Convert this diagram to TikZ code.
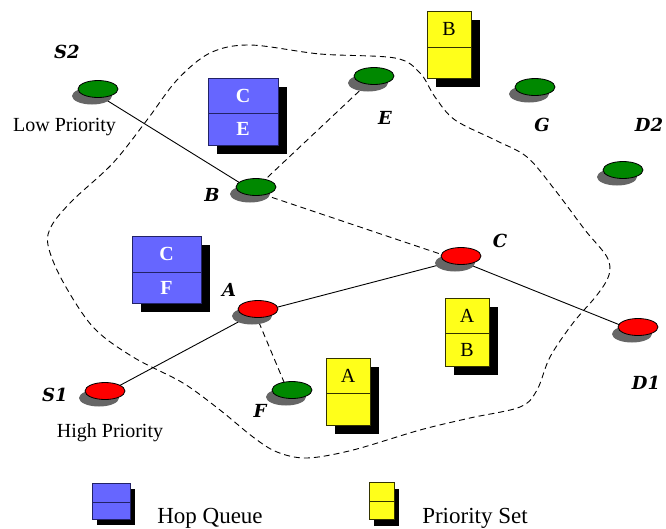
\documentclass[tikz,border=0pt]{standalone}
\usepackage{fontspec}
\setmainfont{Liberation Serif}
\newfontfamily\labelfont{DejaVu Serif}
\usetikzlibrary{shapes.geometric,shadows,backgrounds}
\definecolor{qblue}{HTML}{6666FF}
\definecolor{qblueline}{HTML}{222266}
\definecolor{pyellow}{HTML}{FFFF1A}
\definecolor{pyline}{HTML}{333300}
\definecolor{ngreen}{HTML}{008800}
\definecolor{nred}{HTML}{FF0000}
\definecolor{sgray}{HTML}{666666}
\newcommand\qstack[9]{%
  \fill[black] (#3+9,#4+9) rectangle ++(#5,#6+#7);
  \node[#2, minimum width=#5pt, minimum height=#6pt] (#1t) at (#3,#4) {#8};
  \node[#2, minimum width=#5pt, minimum height=#7pt] (#1b) at (#1t.south west) {#9};
}
\begin{document}
\begin{tikzpicture}[x=1pt,y=-1pt,
  netnode/.style={ellipse, draw=black, line width=0.8pt, minimum width=40pt, minimum height=17pt, inner sep=0pt,
    drop shadow={shadow xshift=-6pt, shadow yshift=-7pt, fill=sgray, opacity=1, draw=none}},
  gnode/.style={netnode, fill=ngreen},
  rnode/.style={netnode, fill=nred},
  lbl/.style={font=\labelfont\fontsize{18}{20}\selectfont\bfseries\itshape, inner sep=0pt},
  txt/.style={font=\fontsize{20}{22}\selectfont, inner sep=0pt},
  legtxt/.style={font=\fontsize{23}{25}\selectfont, inner sep=0pt},
  link/.style={line width=0.9pt},
  dlink/.style={line width=0.9pt, dash pattern=on 6pt off 4pt},
  hopcell/.style={draw=qblueline, fill=qblue, line width=1pt, text=white, font=\fontsize{20}{22}\selectfont\bfseries, inner sep=0pt, outer sep=0pt, anchor=north west},
  setcell/.style={draw=pyline, fill=pyellow, line width=0.8pt, text=black, font=\fontsize{20}{22}\selectfont, inner sep=0pt, outer sep=0pt, anchor=north west},
]
\useasboundingbox (0,0) rectangle (666,528);

% network nodes
\node[gnode] (S2) at (98,89) {};
\node[gnode] (B) at (256,187) {};
\node[gnode] (E) at (374,76) {};
\node[gnode] (G) at (535,87) {};
\node[gnode] (D2) at (623,170) {};
\node[gnode] (F) at (292,390) {};
\node[rnode] (A) at (258,309) {};
\node[rnode] (C) at (461,256) {};
\node[rnode] (S1) at (105,391) {};
\node[rnode] (D1) at (638,327) {};

% labels
\node[lbl] (lS2) at (67,52) {S2};
\node[lbl] (lB) at (212,195) {B};
\node[lbl] (lE) at (385,118) {E};
\node[lbl] (lG) at (542,125) {G};
\node[lbl] (lD2) at (649,125) {D2};
\node[lbl] (lC) at (500,241) {C};
\node[lbl] (lA) at (229,290) {A};
\node[lbl] (lS1) at (55,395) {S1};
\node[lbl] (lF) at (260,411) {F};
\node[lbl] (lD1) at (646,383) {D1};
\node[txt] (lowp) at (64.5,127) {Low Priority};
\node[txt] (highp) at (110,433) {High Priority};

% queues and sets
\qstack{CE}{hopcell}{208}{78}{70}{35}{32}{C}{E}
\qstack{CF}{hopcell}{132}{236}{69}{36}{31}{C}{F}
\qstack{PB}{setcell}{427}{11}{44}{36}{31}{B}{}
\qstack{PAB}{setcell}{445}{298}{44}{35}{33}{A}{B}
\qstack{PA}{setcell}{326}{358}{44}{35}{32}{A}{}

% legend
\fill[black] (97,489) rectangle ++(38,36);
\node[hopcell, minimum width=38pt, minimum height=19pt] (LHt) at (92,483) {};
\node[hopcell, minimum width=38pt, minimum height=17pt] (LHb) at (LHt.south west) {};
\fill[black] (374,489) rectangle ++(25,37);
\node[setcell, minimum width=25pt, minimum height=19pt] (LPt) at (369,482) {};
\node[setcell, minimum width=25pt, minimum height=18pt] (LPb) at (LPt.south west) {};
\node[legtxt] (lhq) at (210,518) {Hop Queue};
\node[legtxt] (lps) at (475,518) {Priority Set};

\begin{scope}[on background layer]
  \draw[dlink] plot[smooth cycle, tension=0.55] coordinates {
    (250,45) (320,54) (395,58) (420,73) (435,97) (455,120) (495,140) (527,157)
    (555,190) (585,230) (607,257) (609,275) (597,295) (573,323) (550,357) (537,390)
    (520,407) (470,418) (420,430) (353,450) (307,458) (277,452) (253,437) (220,410)
    (183,383) (133,357) (93,327) (62,280) (48,245) (52,225) (73,200) (113,163)
    (147,120) (177,80) (210,53)};
  \draw[link] ([shift={(-3pt,-4pt)}]S2.center) -- ([shift={(-3pt,-4pt)}]B.center);
  \draw[dlink] ([shift={(-3pt,-4pt)}]B.center) -- ([shift={(-3pt,-4pt)}]E.center);
  \draw[dlink] ([shift={(-3pt,-4pt)}]B.center) -- ([shift={(-3pt,-4pt)}]C.center);
  \draw[link] ([shift={(-3pt,-4pt)}]S1.center) -- ([shift={(-3pt,-4pt)}]A.center);
  \draw[link] ([shift={(-3pt,-4pt)}]A.center) -- ([shift={(-3pt,-4pt)}]C.center);
  \draw[dlink] ([shift={(-3pt,-4pt)}]A.center) -- ([shift={(-3pt,-4pt)}]F.center);
  \draw[link] ([shift={(-3pt,-4pt)}]C.center) -- ([shift={(-3pt,-4pt)}]D1.center);
\end{scope}
\end{tikzpicture}
\end{document}
